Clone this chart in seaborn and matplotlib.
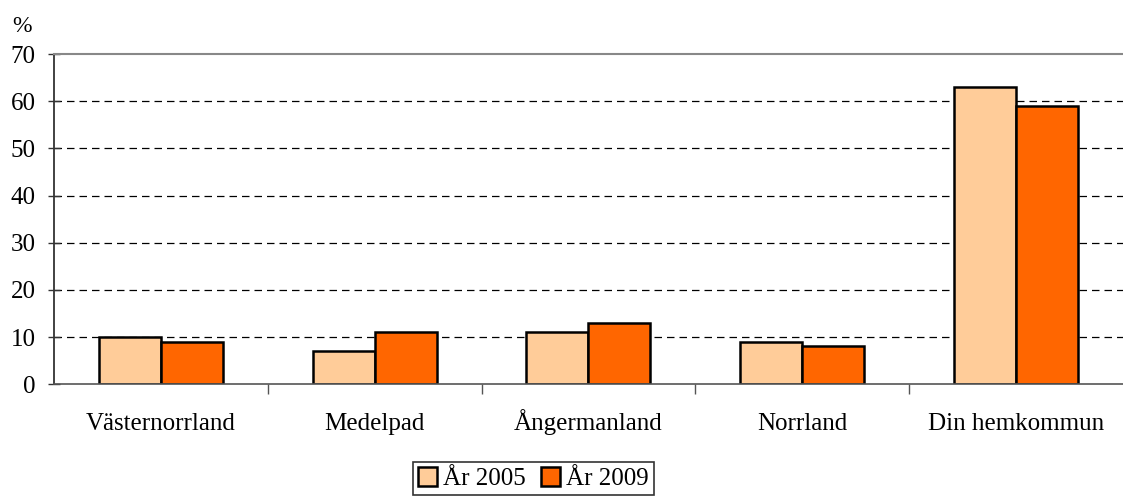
import matplotlib
matplotlib.use("Agg")
import matplotlib.pyplot as plt
import seaborn as sns
import pandas as pd
from matplotlib.ticker import FixedLocator

categories = ["Västernorrland", "Medelpad", "Ångermanland", "Norrland", "Din hemkommun"]
series_names = ["År 2005", "År 2009"]
values_2005 = [10, 7, 11, 9, 63]
values_2009 = [9, 11, 13, 8, 59]
yticks = [0, 10, 20, 30, 40, 50, 60, 70]

df = pd.DataFrame({
    "cat": categories * 2,
    "year": [series_names[0]] * 5 + [series_names[1]] * 5,
    "val": values_2005 + values_2009,
})

sns.set_style("white")
plt.rcParams['font.family'] = ['Liberation Serif', 'DejaVu Serif']
plt.rcParams['text.color'] = 'black'
plt.rcParams['xtick.color'] = 'black'
plt.rcParams['ytick.color'] = 'black'

FS = 18

fig = plt.figure(figsize=(11.23, 4.97), dpi=100)
ax = fig.add_axes([0.048, 0.227, 0.952, 0.664])

sns.barplot(data=df, x="cat", y="val", hue="year", order=categories,
            hue_order=series_names, palette=["#FFCC99", "#FF6600"], saturation=1,
            width=0.58, edgecolor="black", linewidth=1.8, ax=ax, legend=True)

ax.set_ylim(0, 70)
ax.set_xlim(-0.5, 4.5)
ax.set_yticks(yticks)
ax.set_yticklabels([str(t) for t in yticks], fontsize=FS)
ax.set_xlabel("")
ax.set_ylabel("")
ax.tick_params(axis="x", which="major", length=0, pad=33, labelsize=FS, labelcolor="black")
for t in ax.get_xticklabels():
    t.set_verticalalignment("baseline")
ax.xaxis.set_minor_locator(FixedLocator([0.5, 1.5, 2.5, 3.5]))
ax.tick_params(axis="x", which="minor", length=7, width=1, color="#555555", direction="out", bottom=True)
ax.tick_params(axis="y", length=8, width=1, color="#333333", direction="inout", left=True, pad=9, labelcolor="black")

for y in yticks[1:-1]:
    ax.axhline(y, color="black", linestyle=(0, (6, 4)), linewidth=0.9, zorder=0)

ax.spines["right"].set_visible(False)
ax.spines["top"].set_color("#888888")
ax.spines["top"].set_linewidth(1.5)
ax.spines["left"].set_color("#333333")
ax.spines["left"].set_linewidth(1.3)
ax.spines["bottom"].set_color("#555555")
ax.spines["bottom"].set_linewidth(1.2)

fig.text(0.011, 0.935, "%", fontsize=FS - 1)

h, l = ax.get_legend_handles_labels()
ax.legend_.remove()
leg = fig.legend(h, l, loc="upper center", bbox_to_anchor=(0.475, 0.07), ncol=2,
                 fontsize=FS, frameon=True, fancybox=False, edgecolor="black",
                 handlelength=0.75, handleheight=0.75, handletextpad=0.25,
                 columnspacing=0.6, borderpad=0.2, borderaxespad=0)
leg.get_frame().set_linewidth(1.2)

fig.savefig("out.png", dpi=100)
